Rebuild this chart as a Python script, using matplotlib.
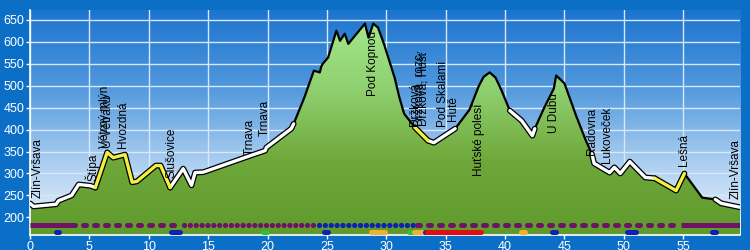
import matplotlib.pyplot as plt
import numpy as np
from matplotlib.colors import LinearSegmentedColormap
from matplotlib.patches import Polygon

# elevation profile (km, m a.s.l.)
distance_km = [0, 0.3, 2.2, 2.4, 3.5, 4.1, 5.1, 5.5, 6.5, 7.0, 8.0, 8.6, 9.0,
               10.6, 11.0, 11.8, 12.9, 13.6, 13.9, 14.6, 18.6, 19.8, 19.9,
               22.0, 22.2, 23.1, 23.9, 24.4, 24.5, 24.6, 25.1, 25.8, 26.1,
               26.5, 26.8, 28.2, 28.5, 28.9, 29.3, 29.8, 30.7, 31.1, 31.5,
               32.4, 33.5, 34.0, 35.8, 37.0, 37.8, 38.2, 38.7, 39.2, 39.7,
               40.4, 41.4, 42.3, 42.5, 43.3, 44.1, 44.3, 45.0, 46.0, 46.8,
               47.3, 47.5, 48.8, 49.2, 49.7, 50.5, 51.8, 52.6, 54.4, 55.1,
               56.6, 57.7, 58.2, 59.8]
elevation_m = [232, 225, 230, 238, 250, 275, 272, 268, 348, 336, 343, 280, 282,
               318, 318, 268, 311, 273, 302, 303, 341, 352, 359,
               402, 413, 473, 534, 530, 541, 548, 564, 625, 602,
               618, 595, 641, 609, 641, 632, 595, 518, 473, 436,
               405, 375, 370, 402, 445, 500, 520, 530, 518, 489,
               443, 420, 386, 402, 450, 493, 523, 505, 430, 375,
               345, 323, 302, 314, 300, 327, 291, 289, 261, 300,
               245, 241, 232, 223]

# highlighted road sections (from km, to km)
white_sections = [(0, 5.5), (11.8, 22.2), (33.5, 35.8), (40.4, 42.5),
                  (47.3, 52.6), (57.7, 59.8)]
yellow_sections = [(5.5, 11.8), (32.4, 33.5), (52.6, 55.1)]

# waypoint labels: (km, elevation where text starts, name)
label_km = [0.6, 5.2, 6.3, 6.6, 7.8, 11.9, 18.5, 19.8, 28.9, 32.4, 32.8,
            33.1, 34.8, 35.6, 37.8, 44.1, 47.3, 48.6, 55.1, 59.4]
label_base = [245, 284, 359, 359, 359, 289, 341, 386, 477, 409, 409,
              409, 405, 420, 295, 393, 341, 323, 318, 243]
label_names = ["Zlín-Vršava", "Štípa", "Větrný mlýn", "U Větráku", "Hvozdná",
               "Slušovice", "Trnava", "Trnava", "Pod Kopnou", "Držková",
               "Držková, rozc.", "Držková, Hušť", "Pod Skalami", "Hutě",
               "Huťské polesí", "U Dubu", "Radovna", "Lukoveček", "Lešná",
               "Zlín-Vršava"]

# surface/track bars along the bottom: (from km, to km, kind)
row1_segments = [(0, 3.5, "solid"), (3.5, 12.5, "big"), (13.0, 24.2, "small"),
                 (24.3, 32.6, "small_blue"), (32.6, 54.8, "big"),
                 (54.8, 59.8, "solid")]
row2_segments = [(2.3, 2.3, "#1020b0"), (12.0, 12.5, "#1020b0"),
                 (19.8, 19.8, "#30c030"), (24.9, 24.9, "#1020b0"),
                 (28.9, 29.7, "#f0b030"), (32.1, 32.1, "#30c030"),
                 (32.5, 33.2, "#f0b030"), (33.4, 33.4, "#1020b0"),
                 (33.6, 37.8, "#e01010"), (41.5, 41.5, "#f0b030"),
                 (44.1, 44.1, "#1020b0"), (50.4, 50.9, "#1020b0"),
                 (57.6, 57.6, "#1020b0")]

x_max = 59.8
y_min, y_max = 160, 672
fig_bg = "#0b6fc7"
purple = "#6e1466"

fig = plt.figure(figsize=(7.5, 2.5), dpi=100, facecolor=fig_bg)
ax = fig.add_axes([0.04, 0.06, 0.947, 0.9])
ax.set_xlim(0, x_max)
ax.set_ylim(y_min, y_max)

sky = LinearSegmentedColormap.from_list(
    "sky", ["#eef5fc", "#a9cdf0", "#4f97dc", "#1c74cf"])
grad = np.linspace(0, 1, 256).reshape(-1, 1)
ax.imshow(grad, extent=[0, x_max, y_min, y_max], origin="lower",
          cmap=sky, aspect="auto", zorder=0)

for xv in range(0, 60, 5):
    ax.axvline(xv, color="#d6e8fa", lw=1, zorder=1)
for yv in range(200, 651, 50):
    ax.axhline(yv, color="#d6e8fa", lw=1, zorder=1)

dist = np.array(distance_km)
elev = np.array(elevation_m)

verts = np.column_stack([np.r_[dist[0], dist, dist[-1]],
                         np.r_[y_min, elev, y_min]])
terrain = Polygon(verts, closed=True, facecolor="none", edgecolor="none")
ax.add_patch(terrain)
green = LinearSegmentedColormap.from_list(
    "green", ["#5f9a2c", "#6fa83a", "#8fd070", "#a6ea8e"])
img = ax.imshow(grad, extent=[0, x_max, y_min, 660], origin="lower",
                cmap=green, aspect="auto", zorder=2)
img.set_clip_path(terrain)

ax.plot(dist, elev, color="black", lw=1.6, zorder=3)


def draw_section(a, b, color):
    mask = (dist >= a) & (dist <= b)
    ax.plot(dist[mask], elev[mask], color="black", lw=4.2, zorder=4,
            solid_capstyle="round", solid_joinstyle="round")
    ax.plot(dist[mask], elev[mask], color=color, lw=2.4, zorder=5,
            solid_capstyle="round", solid_joinstyle="round")


for a, b in white_sections:
    draw_section(a, b, "white")
for a, b in yellow_sections:
    draw_section(a, b, "#f4f040")

for km, base, name in zip(label_km, label_base, label_names):
    ax.text(km, base, name, rotation=90, ha="center", va="bottom",
            fontsize=8.5, family="Liberation Sans", color="black", zorder=6)

row1_y = 182
for a, b, kind in row1_segments:
    if kind == "solid":
        ax.plot([a, b], [row1_y, row1_y], color=purple, lw=3.6,
                solid_capstyle="butt", zorder=6)
    elif kind == "big":
        ax.plot([a, b], [row1_y, row1_y], color=purple, lw=3.6,
                ls=(0, (0.6, 1.6)), dash_capstyle="round", zorder=6)
    elif kind == "small":
        ax.plot([a, b], [row1_y, row1_y], color=purple, lw=3.8,
                ls=(0, (0.01, 1.1)), dash_capstyle="round", zorder=6)
    else:
        ax.plot([a, b], [row1_y, row1_y], color="#1020b0", lw=3.8,
                ls=(0, (0.01, 1.1)), dash_capstyle="round", zorder=6)

row2_y = 166
for a, b, color in row2_segments:
    ax.plot([a - 0.15, b + 0.15], [row2_y, row2_y], color=color, lw=3.6,
            solid_capstyle="round", zorder=6)

ax.set_xticks(range(0, 56, 5))
ax.set_yticks(range(200, 651, 50))
ax.tick_params(colors="white", labelsize=9, length=3, width=1, pad=1)
for lab in ax.get_xticklabels() + ax.get_yticklabels():
    lab.set_family("Liberation Sans")
for side in ["top", "right"]:
    ax.spines[side].set_visible(False)
for side in ["left", "bottom"]:
    ax.spines[side].set_color("white")
    ax.spines[side].set_linewidth(1.2)

fig.savefig("out.png", dpi=100, facecolor=fig_bg)
